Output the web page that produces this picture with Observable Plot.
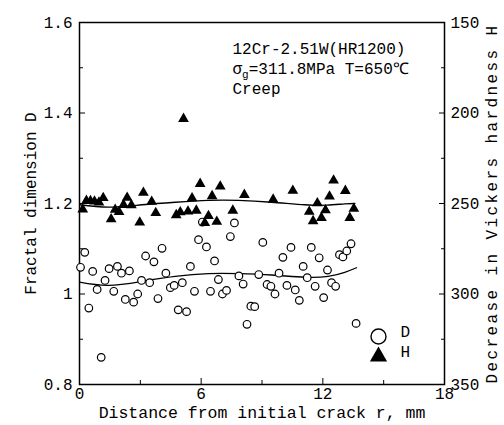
<!DOCTYPE html>
<html><head><meta charset="utf-8">
<script src="https://cdn.jsdelivr.net/npm/d3@7"></script>
<script src="https://cdn.jsdelivr.net/npm/@observablehq/plot@0.6"></script>
<style>body{margin:0;background:#fff} svg{display:block}</style>
</head><body><div id="chart"></div>
<script>
// ---- data ----
const circleX = [0.05,0.26,0.46,0.65,0.87,1.07,1.26,1.46,1.69,1.87,2.07,2.26,2.46,2.67,2.87,3.06,3.26,3.46,3.67,3.87,4.07,4.26,4.48,4.67,4.87,5.07,5.28,5.47,5.67,5.87,6.06,6.26,6.46,6.66,6.85,7.05,7.25,7.44,7.64,7.86,8.07,8.26,8.45,8.64,8.84,9.04,9.25,9.44,9.64,9.84,10.03,10.23,10.43,10.64,10.84,11.03,11.23,11.43,11.62,11.82,12.04,12.23,12.43,12.63,12.82,12.99,13.18,13.39,13.64];
const circleD = [1.059,1.092,0.969,1.050,1.010,0.860,1.030,1.056,1.006,1.061,1.046,0.988,1.051,0.982,1.000,1.030,1.084,1.025,1.071,0.990,1.101,1.046,1.014,1.019,0.965,1.025,0.961,1.061,1.006,1.120,1.159,1.104,1.006,1.073,1.032,1.000,1.008,1.127,1.157,1.040,1.022,0.933,0.973,0.972,1.043,1.114,1.021,1.017,1.000,1.046,1.081,1.019,1.103,1.009,0.986,1.061,1.036,1.103,1.017,1.080,0.992,1.053,1.025,1.017,1.087,1.082,1.095,1.111,0.935];
const triX = [0.16,0.34,0.54,0.74,0.96,1.17,1.56,1.76,1.95,2.17,2.35,2.56,2.97,3.15,3.56,3.76,4.77,4.97,5.13,5.35,5.55,5.76,5.95,6.18,6.36,6.54,6.77,6.94,7.56,8.13,9.55,10.52,11.33,11.52,11.73,11.93,12.13,12.33,12.53,13.11,13.33,13.53];
const triH = [253.3,248.5,248.6,248.9,249.4,246.9,258.7,253.4,254.7,250.7,246.8,250.9,260.5,244.0,249.0,255.2,256.4,254.8,203.2,254.4,247.1,253.9,239.1,260.7,256.9,245.9,260.0,240.6,253.9,245.2,247.8,242.9,254.5,259.7,249.8,257.9,253.7,246.1,237.3,243.0,257.9,252.9];
const fitDX = [0,1.43,3.08,4.72,6.36,7.84,9.48,11.12,12.26,13.08,13.66];
const fitDY = [1.026,1.019,1.028,1.039,1.045,1.045,1.042,1.037,1.039,1.048,1.058];
const fitHX = [0,1.44,3.08,4.72,6.36,7.84,9.48,11.12,12.2,13.08,13.58];
const fitHY = [250.7,252.0,250.7,249.3,248.3,248.3,249.3,250.7,250.9,250.2,250.0];
const xTicks = [0,6,12,18];
const xMinor = [3,9,15];
const dTicks = [0.8,1.0,1.2,1.4,1.6];
const dMinor = [0.9,1.1,1.3,1.5];
const hTicks = [150,200,250,300,350];
const hMinor = [175,225,275,325];
const annotation = ["12Cr-2.51W(HR1200)","σg=311.8MPa T=650℃","Creep"];
const legendLabels = ["D","H"];
const xLabel = "Distance from initial crack r, mm";
const yLabel = "Fractal dimension D";
const y2Label = "Decrease in Vickers hardness H";

// right axis (H) shares the vertical scale: 150 at D=1.6, 350 at D=0.8
const hToD = h => 1.6 - (h - 150) / 250;
const dToH = d => Math.round(150 + (1.6 - d) * 250);

const circles = circleX.map((x, i) => ({x, y: circleD[i]}));
const tris = triX.map((x, i) => ({x, y: hToD(triH[i])}));
const fitD = fitDX.map((x, i) => ({x, y: fitDY[i]}));
const fitH = fitHX.map((x, i) => ({x, y: hToD(fitHY[i])}));

const font = "Liberation Mono";
const chart = Plot.plot({
  width: 504, height: 425,
  marginLeft: 79, marginRight: 60, marginTop: 22, marginBottom: 41,
  style: {fontFamily: font, fontSize: "16px", color: "black", background: "white", overflow: "visible"},
  x: {domain: [0, 18]},
  y: {domain: [0.8, 1.6]},
  marks: [
    // axes: labels
    Plot.axisX({ticks: xTicks, tickSize: 0, tickPadding: 3, label: null, tickFormat: d => String(d)}),
    Plot.axisY({anchor: "left", ticks: dTicks, tickSize: 0, tickPadding: 7, label: null, tickFormat: d => d === 1 ? "1" : d.toFixed(1)}),
    Plot.axisY({anchor: "right", ticks: hTicks.map(hToD), tickSize: 0, tickPadding: 6, label: null, tickFormat: d => String(dToH(d))}),
    // inward ticks
    Plot.axisX({ticks: xTicks, tickSize: -6, label: null, tickFormat: () => ""}),
    Plot.axisX({ticks: xMinor, tickSize: -4, label: null, tickFormat: () => ""}),
    Plot.axisY({anchor: "left", ticks: dTicks, tickSize: -6, label: null, tickFormat: () => ""}),
    Plot.axisY({anchor: "left", ticks: dMinor, tickSize: -4, label: null, tickFormat: () => ""}),
    Plot.axisY({anchor: "right", ticks: hTicks.map(hToD), tickSize: -6, label: null, tickFormat: () => ""}),
    Plot.axisY({anchor: "right", ticks: hMinor.map(hToD), tickSize: -4, label: null, tickFormat: () => ""}),
    Plot.frame({stroke: "black", strokeWidth: 1.5}),
    // fitted curves
    Plot.line(fitD, {x: "x", y: "y", curve: "natural", stroke: "black", strokeWidth: 1.3}),
    Plot.line(fitH, {x: "x", y: "y", curve: "natural", stroke: "black", strokeWidth: 1.3}),
    // data
    Plot.dot(circles, {x: "x", y: "y", symbol: "circle", r: 3.8, fill: "white", stroke: "black", strokeWidth: 1.2}),
    Plot.dot(tris, {x: "x", y: "y", symbol: "triangle", r: 4, fill: "black", stroke: "none"}),
    // legend
    Plot.dot([legendLabels[0]], {frameAnchor: "bottom-right", dx: -66, dy: -48, symbol: "circle", r: 7.5, fill: "white", stroke: "black", strokeWidth: 1.4}),
    Plot.dot([legendLabels[1]], {frameAnchor: "bottom-right", dx: -66, dy: -28, symbol: "triangle", r: 6.4, fill: "black", stroke: "none"}),
    Plot.text([legendLabels[0]], {text: d => d, frameAnchor: "bottom-right", dx: -44, dy: -48, textAnchor: "start"}),
    Plot.text([legendLabels[1]], {text: d => d, frameAnchor: "bottom-right", dx: -44, dy: -28, textAnchor: "start"}),
    // annotation
    Plot.text([annotation.join("\n")], {text: d => d, frameAnchor: "top-left", dx: 153, dy: 17, textAnchor: "start", lineAnchor: "top", lineHeight: 1.25}),
    // axis titles
    Plot.text([xLabel], {text: d => d, frameAnchor: "bottom", dy: 33, textAnchor: "middle", fontSize: 16.5}),
    Plot.text([yLabel], {text: d => d, frameAnchor: "left", dx: -49, rotate: -90, textAnchor: "middle"}),
    Plot.text([y2Label], {text: d => d, frameAnchor: "right", dx: 47, rotate: -90, textAnchor: "middle"})
  ]
});

// subscript g in sigma_g; letter spacing of the right-hand title
const ns = "http://www.w3.org/2000/svg";
chart.querySelectorAll("text, tspan").forEach(el => {
  if (el.childElementCount === 0 && el.textContent.startsWith("σg")) {
    const rest = el.textContent.slice(2);
    el.textContent = "σ";
    const sub = document.createElementNS(ns, "tspan");
    sub.setAttribute("dy", "4"); sub.setAttribute("font-size", "11"); sub.textContent = "g";
    const r = document.createElementNS(ns, "tspan");
    r.setAttribute("dy", "-4"); r.textContent = rest;
    el.append(sub, r);
  }
  if (el.textContent === y2Label) el.style.letterSpacing = "2.4px";
});
document.getElementById("chart").append(chart);
</script></body></html>
